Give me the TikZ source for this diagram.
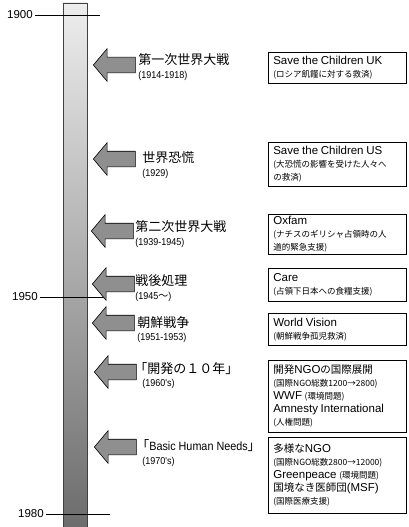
\documentclass[tikz,border=0pt]{standalone}
\usepackage{fontspec}
\setmainfont{Liberation Sans}
\newfontfamily\jp{Noto Sans CJK JP}
\newfontfamily\etroit[FakeStretch=0.9]{Liberation Sans}
\usetikzlibrary{shapes.arrows,positioning}
\newcommand{\titrel}[1]{{\fontsize{11.5}{13}\selectfont #1}}
\newcommand{\titrej}[1]{{\jp\fontsize{10.5}{13}\selectfont #1}}
\newcommand{\sousj}[1]{{\jp\fontsize{8.5}{13}\selectfont #1}}
\begin{document}
\begin{tikzpicture}[x=1pt,y=-1pt,line width=0.6pt]
  \tikzset{fleche/.style={single arrow, draw=black, fill=black!44, shape border rotate=180, inner xsep=0pt, inner ysep=7.5pt, minimum height=42pt, single arrow head extend=8.5pt, single arrow tip angle=100, anchor=tip}}
  \tikzset{evenement/.style={anchor=west, inner sep=0pt, font=\jp\fontsize{13}{15}\selectfont}}
  \tikzset{annee/.style={inner sep=0pt, font=\etroit\fontsize{10}{12}\selectfont}}
  \tikzset{ong/.style={draw, anchor=north west, inner xsep=5pt, inner ysep=2pt, text width=128pt, align=left, font=\fontsize{8}{13}\selectfont}}
  \tikzset{date/.style={anchor=east, inner sep=2pt, font=\fontsize{11.5}{13}\selectfont}}
  \useasboundingbox (0,0) rectangle (409,527);
  % barre du temps
  \shade[draw=black!75, top color=black!7, bottom color=black!58] (63,3) rectangle (87,532);
  % graduations
  \node[date] (a1900) at (35,15) {1900};
  \node[date] (a1950) at (40,297) {1950};
  \node[date] (a1980) at (46,514) {1980};
  \coordinate (t1900) at (100,15);
  \coordinate (t1950) at (105,297);
  \coordinate (t1980) at (110,514);
  \draw (a1900.east) -- (t1900);
  \draw (a1950.east) -- (t1950);
  \draw (a1980.east) -- (t1980);
  % fleches
  \node[fleche] (f1) at (93,65) {};
  \node[fleche] (f2) at (93,159) {};
  \node[fleche] (f3) at (91,231) {};
  \node[fleche] (f4) at (92,284) {};
  \node[fleche] (f5) at (92,323) {};
  \node[fleche] (f6) at (94,372) {};
  \node[fleche] (f7) at (94,447) {};
  % evenements
  \node[evenement] (e1) at (138,59.5) {第一次世界大戦};
  \node[annee, below right=5.5pt and 0pt of e1.south west] (y1) {(1914-1918)};
  \node[evenement] (e2) at (142,157.5) {世界恐慌};
  \node[annee, below right=5pt and 0pt of e2.south west] (y2) {(1929)};
  \node[evenement] (e3) at (135,226.5) {第二次世界大戦};
  \node[annee, below right=5.5pt and 0pt of e3.south west] (y3) {(1939-1945)};
  \node[evenement] (e4) at (135,281) {戦後処理};
  \node[annee, below right=5pt and 0pt of e4.south west] (y4) {(1945{\jp ～})};
  \node[evenement] (e5) at (137,322.5) {朝鮮戦争};
  \node[annee, below right=4pt and 0pt of e5.south west] (y5) {(1951-1953)};
  \node[evenement] (e6) at (134,369) {「開発の１０年」};
  \node[annee, below right=4pt and 8pt of e6.south west] (y6) {(1960's)};
  \node[evenement] (e7) at (136,446) {「{\etroit\fontsize{12}{14}\selectfont Basic Human Needs}」};
  \node[annee, below right=5pt and 6pt of e7.south west] (y7) {(1970's)};
  % ONG
  \node[ong, minimum height=31pt] (scuk) at (268,52)
    {\titrel{Save the Children UK}\\ \sousj{(ロシア飢饉に対する救済)}};
  \node[ong, minimum height=44pt] (scus) at (268,142)
    {\titrel{Save the Children US}\\ \sousj{(大恐慌の影響を受けた人々へ}\\ \sousj{の救済)}};
  \node[ong, minimum height=38pt] (oxfam) at (268,214)
    {\titrel{Oxfam}\\ \sousj{(ナチスのギリシャ占領時の人}\\ \sousj{道的緊急支援)}};
  \node[ong, minimum height=33pt] (care) at (268,268)
    {\titrel{Care}\\ \sousj{(占領下日本への食糧支援)}};
  \node[ong, minimum height=32pt] (wv) at (268,313)
    {\titrel{World Vision}\\ \sousj{(朝鮮戦争孤児救済)}};
  \node[ong, minimum height=72pt] (dev) at (268,360)
    {\titrej{開発}\titrel{NGO}\titrej{の国際展開}\\ \sousj{(国際NGO総数1200→2800)}\\
     \titrel{WWF} \sousj{(環境問題)}\\ \titrel{Amnesty International}\\ \sousj{(人権問題)}};
  \node[ong, minimum height=76pt] (divers) at (268,437)
    {\titrej{多様な}\titrel{NGO}\\ \sousj{(国際NGO総数2800→12000)}\\
     \titrel{Greenpeace} \sousj{(環境問題)}\\ \titrej{国境なき医師団}\titrel{(MSF)}\\ \sousj{(国際医療支援)}};
\end{tikzpicture}
\end{document}
